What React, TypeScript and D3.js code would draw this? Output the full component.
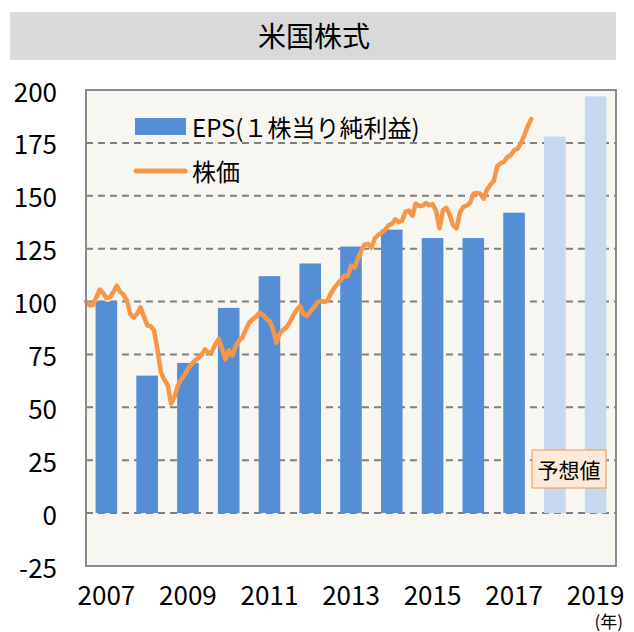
import React from "react";
import * as d3 from "d3";

const years = [2007, 2008, 2009, 2010, 2011, 2012, 2013, 2014, 2015, 2016, 2017, 2018, 2019];
const epsValues = [100, 65, 71, 97, 112, 118, 126, 134, 130, 130, 142, 178, 197];
const forecastYears = [2018, 2019];
const yTicks = [-25, 0, 25, 50, 75, 100, 125, 150, 175, 200];
const xTickLabels = [2007, 2009, 2011, 2013, 2015, 2017, 2019];
const priceStartYear = 2007;
// monthly stock price index, Jan 2007 .. Dec 2017
const priceValues = [
  100, 98.3, 98.5, 102, 105.7, 104, 101.6, 102, 104.5, 107.5, 104.6, 103.2,
  100.5, 94, 92.5, 94.2, 97.3, 93, 88.7, 88.4, 86.3, 77, 66.5, 63,
  60.6, 51.8, 55, 60.4, 63.2, 65.3, 68.3, 70.4, 72.1, 73.3, 75, 77.4,
  75.8, 76.2, 79.7, 82.2, 77.8, 72.6, 77, 74.5, 78.9, 81.6, 83.1, 86.8,
  90.1, 91.6, 92.9, 94.7, 93.9, 92, 90.7, 86.8, 80.6, 85.1, 86.6, 87.8,
  90.4, 93.5, 96.2, 97.8, 94, 93.2, 95.3, 97.2, 99.5, 100.3, 99.9, 100.3,
  103.8, 106.3, 108.4, 110.2, 112.3, 112, 117, 116, 120.4, 124.2, 127, 127.2,
  125.5, 130, 131.5, 132.6, 133.9, 136, 136.7, 138.9, 137.5, 138.2, 142.5, 143,
  140.5, 146.3, 145.2, 145.3, 146.6, 145.5, 146, 142.8, 134.6, 143.1, 144.3, 141,
  136.1, 134.6, 142, 144.7, 145.4, 146.6, 151, 151.3, 151, 148.6, 152.9, 155.2,
  157.1, 164, 165.4, 166.1, 168.4, 169.2, 171.6, 172.2, 175, 178.8, 183, 186.3,
];
const title = "米国株式";
const legendEps = "EPS(１株当り純利益)";
const legendPrice = "株価";
const forecastLabel = "予想値";
const yearUnit = "(年)";

const W = 634;
const H = 632;
const plot = { left: 86, right: 616, top: 90, bottom: 566 };
const FONT = "'Noto Sans CJK JP', 'Noto Sans', sans-serif";

export default function App() {
  const x = d3
    .scaleBand<number>()
    .domain(years)
    .range([plot.left, plot.right])
    .paddingInner(0.47)
    .paddingOuter(0.235);
  const xTime = d3
    .scaleLinear()
    .domain([years[0], years[years.length - 1] + 1])
    .range([plot.left, plot.right]);
  const y = d3.scaleLinear().domain([-25, 200]).range([plot.bottom, plot.top]);

  const line = d3
    .line<number>()
    .x((_, i) => xTime(priceStartYear + (i + 0.05) / 12))
    .y((d) => y(d))
    .curve(d3.curveLinear);

  return (
    <svg
      width={W}
      height={H}
      style={{ position: "absolute", left: 0, top: 0, background: "#fff" }}
      fontFamily={FONT}
    >
      {/* title */}
      <rect x={10} y={12} width={606} height={48} fill="#D9D9D9" />
      <text x={314} y={35} textAnchor="middle" dominantBaseline="central" fontSize={28} fill="#000">
        {title}
      </text>

      {/* plot background */}
      <rect
        x={plot.left}
        y={plot.top}
        width={plot.right - plot.left}
        height={plot.bottom - plot.top}
        fill="#F8F6F0"
      />
      {/* gridlines */}
      {yTicks
        .filter((t) => t > -25 && t < 200)
        .map((t) => (
          <line
            key={t}
            x1={plot.left}
            x2={plot.right}
            y1={y(t)}
            y2={y(t)}
            stroke="#7F7F7F"
            strokeWidth={2}
            strokeDasharray="7,5"
          />
        ))}
      {/* bars */}
      {years.map((yr, i) => {
        const v = epsValues[i];
        const fc = forecastYears.includes(yr);
        return (
          <rect
            key={yr}
            x={x(yr)}
            y={y(v)}
            width={x.bandwidth()}
            height={y(0) - y(v)}
            fill={fc ? "#C6D9F1" : "#558ED5"}
          />
        );
      })}
      {/* price line */}
      <path
        d={line(priceValues) || ""}
        fill="none"
        stroke="#F79646"
        strokeWidth={4.5}
        strokeLinejoin="round"
        strokeLinecap="round"
      />
      {/* border */}
      <rect
        x={plot.left}
        y={plot.top}
        width={plot.right - plot.left}
        height={plot.bottom - plot.top}
        fill="none"
        stroke="#8C8C8C"
        strokeWidth={2}
      />
      {/* y axis labels */}
      {yTicks.map((t) => (
        <text
          key={t}
          x={57}
          y={y(t)}
          textAnchor="end"
          dominantBaseline="central"
          fontSize={26}
          fill="#000"
        >
          {t}
        </text>
      ))}
      {/* x axis labels */}
      {xTickLabels.map((yr) => (
        <text
          key={yr}
          x={(x(yr) ?? 0) + x.bandwidth() / 2}
          y={593}
          textAnchor="middle"
          dominantBaseline="central"
          fontSize={26}
          fill="#000"
        >
          {yr}
        </text>
      ))}
      <text x={623} y={620} textAnchor="end" dominantBaseline="central" fontSize={17} fill="#000">
        {yearUnit}
      </text>

      {/* legend */}
      <rect x={135} y={118} width={51} height={17} fill="#558ED5" />
      <text x={192} y={126} dominantBaseline="central" fontSize={24} fill="#000">
        {legendEps}
      </text>
      <line
        x1={136}
        x2={185}
        y1={171}
        y2={171}
        stroke="#F79646"
        strokeWidth={5}
        strokeLinecap="round"
      />
      <text x={192} y={170} dominantBaseline="central" fontSize={24} fill="#000">
        {legendPrice}
      </text>

      {/* forecast annotation */}
      <rect x={532} y={450} width={74} height={38} fill="#FDE9D9" stroke="#F79646" strokeWidth={1} />
      <text x={569} y={469} textAnchor="middle" dominantBaseline="central" fontSize={21} fill="#000">
        {forecastLabel}
      </text>
    </svg>
  );
}
